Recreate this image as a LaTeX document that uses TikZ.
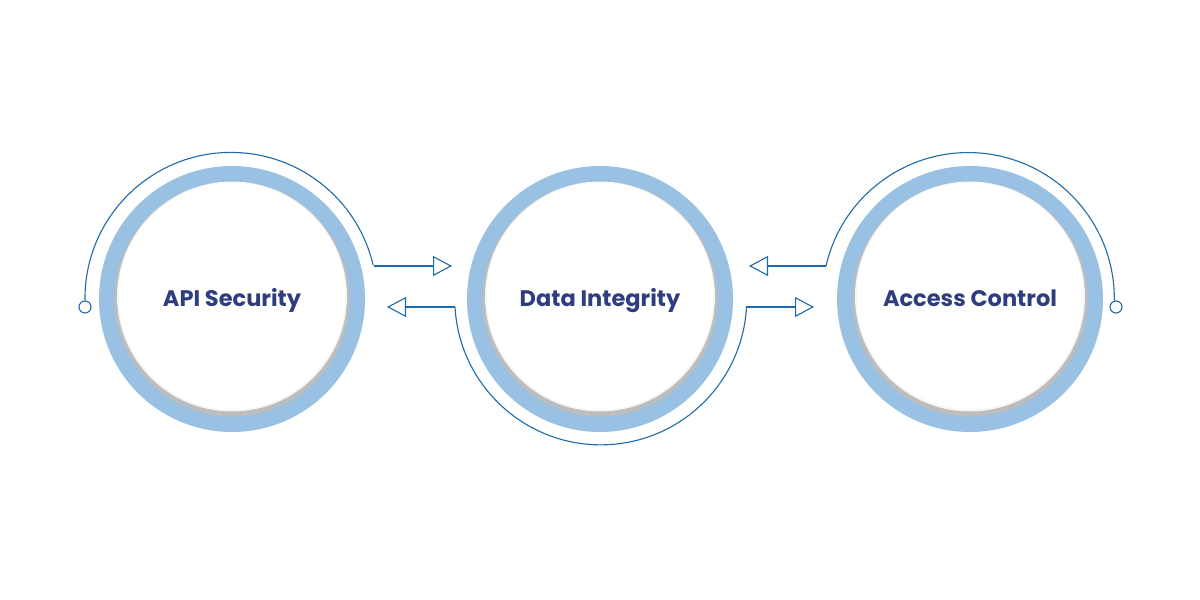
\documentclass[tikz,border=0pt]{standalone}
\usepackage{fontspec}
\setmainfont{Poppins}
\usetikzlibrary{arrows.meta}
\definecolor{ringblue}{HTML}{98C1E3}
\definecolor{lineblue}{HTML}{1F6AAA}
\definecolor{textnavy}{HTML}{2F3D80}
\definecolor{shadegray}{HTML}{BDBDBD}
\begin{document}
\begin{tikzpicture}[x=1pt,y=1pt,
  ring/.style={circle,fill=ringblue,minimum size=266pt,inner sep=0pt},
  label/.style={font=\fontsize{22.5}{26}\selectfont\bfseries,text=textnavy,anchor=base,inner sep=0pt},
  conn/.style={draw=lineblue,line width=1.1pt},
  flow/.style={conn,-{Triangle[open,length=19pt,width=20pt,fill=white]}},
  dot/.style={circle,draw=lineblue,line width=1.1pt,fill=white,minimum size=12pt,inner sep=0pt}]
\useasboundingbox (0,0) rectangle (1200,600);
\fill[white] (0,0) rectangle (1200,600);
% circles
\foreach \n/\cx in {L/232,M/600,R/970}{
  \node[ring] (ring\n) at (\cx,301) {};
  \fill[shadegray] (\cx,301) circle (117.5);
  \fill[gray!8] (\cx,303.5) circle (115);
  \fill[white] (\cx,304) circle (113.5);
}
\node[label] (tL) at (232,293) {API Security};
\node[label] (tM) at (600,293) {Data Integrity};
\node[label] (tR) at (970,293) {Access Control};
% dots
\node[dot] (dotL) at (85,293) {};
\node[dot] (dotR) at (1116,293) {};
% arc end coordinates
\coordinate (aL) at (374,334);
\coordinate (aM1) at (455,293);
\coordinate (aM2) at (746,293);
\coordinate (aR) at (826,334);
\coordinate (tipLR) at (452,334);
\coordinate (tipML) at (387,293);
\coordinate (tipRL) at (749,334);
\coordinate (tipMR) at (814,293);
% arcs
\draw[conn] (dotL.north) arc[start angle=180.8,end angle=13.1,radius=146];
\draw[conn] (aM1) arc[start angle=183.2,end angle=356.8,radius=146];
\draw[conn] (aR) arc[start angle=167.1,end angle=-0.8,radius=146];
% arrows
\draw[flow] (aL) -- (tipLR);
\draw[flow] (aM1) -- (tipML);
\draw[flow] (aR) -- (tipRL);
\draw[flow] (aM2) -- (tipMR);
\end{tikzpicture}
\end{document}
